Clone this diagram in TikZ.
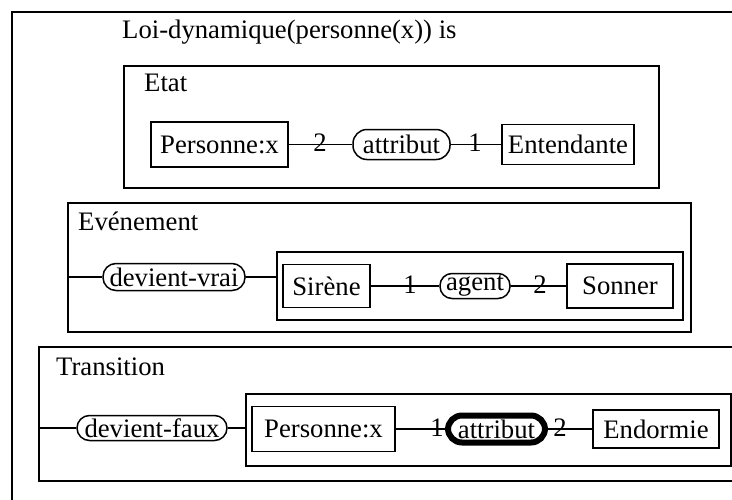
\documentclass[tikz,border=0pt]{standalone}
\usepackage{fontspec}
\setmainfont{Liberation Serif}
\begin{document}
\begin{tikzpicture}[x=1pt,y=-1pt,
  every node/.style={font=\fontsize{26.7}{31}\selectfont, inner sep=0pt},
  sz/.style 2 args={minimum width=#1pt, minimum height=#2pt},
  frame/.style={draw, line width=1.6pt},
  concept/.style={draw, line width=1.5pt},
  relation/.style={draw, line width=1.5pt, rounded corners=#1},
  keyrel/.style={draw, line width=6pt, rounded corners=#1},
  arc/.style={line width=1.3pt},
  title/.style={anchor=base west},
  digit/.style={anchor=center}
]
\useasboundingbox (0,0) rectangle (732,499);
\clip (0,0) rectangle (732,499);

% outer frame of the dynamic law
\node[frame, sz={760}{520}, anchor=north west] (law) at (11,11) {};
\node[title] (lawname) at (122,38) {Loi-dynamique(personne(x)) is};

% ---- Etat ----
\node[frame, sz={535}{122}] (etat) at (391.5,127) {};
\node[title] (etatname) at (144,91) {Etat};
\node[concept, sz={137}{45}] (p1) at (219.5,144.5) {Personne:x};
\node[relation=14pt, sz={97}{30}] (r1) at (401.5,144.5) {attribut};
\node[concept, sz={132}{40}] (c1) at (568,144.5) {Entendante};
\node[digit] (d1a) at (320,143) {2};
\node[digit] (d1b) at (475,143) {1};
\draw[arc] (p1) -- (r1);
\draw[arc] (r1) -- (c1);

% ---- Evenement ----
\node[frame, sz={623}{129}] (evt) at (379.5,267.5) {};
\node[title] (evtname) at (78,230) {Evénement};
\node[relation=13pt, sz={142}{27}] (dv) at (174,277) {devient-vrai};
\node[frame, sz={406}{68}] (ctxa) at (480,286) {};
\node[concept, sz={87}{43}] (s2) at (326.5,286) {Sirène};
\node[relation=12pt, sz={70}{25}] (r2) at (475,286) {agent};
\node[concept, sz={106}{44}] (c2) at (620,286) {Sonner};
\node[digit] (d2a) at (410,284.5) {1};
\node[digit] (d2b) at (540,284.5) {2};
\draw[arc] (dv -| evt.west) -- (dv);
\draw[arc] (dv) -- (dv -| ctxa.west);
\draw[arc] (s2) -- (r2);
\draw[arc] (r2) -- (c2);

% ---- Transition ----
\node[frame, sz={730}{134}, anchor=north west] (trans) at (38,346) {};
\node[title] (transname) at (56,375) {Transition};
\node[relation=12.5pt, sz={150}{25}] (df) at (152,428) {devient-faux};
\node[frame, sz={485}{72}, anchor=north west] (ctxb) at (245,393) {};
\node[concept, sz={143}{45}] (p3) at (323.5,429) {Personne:x};
\node[keyrel=14pt, sz={97}{27}] (r3) at (496.5,429) {attribut};
\node[concept, sz={126}{38}] (c3) at (656,429) {Endormie};
\node[digit] (d3a) at (437,427.5) {1};
\node[digit] (d3b) at (560,427.5) {2};
\draw[arc] (df -| trans.west) -- (df);
\draw[arc] (df) -- (df -| ctxb.west);
\draw[arc] (p3) -- (r3);
\draw[arc] (r3) -- (c3);
\end{tikzpicture}
\end{document}
